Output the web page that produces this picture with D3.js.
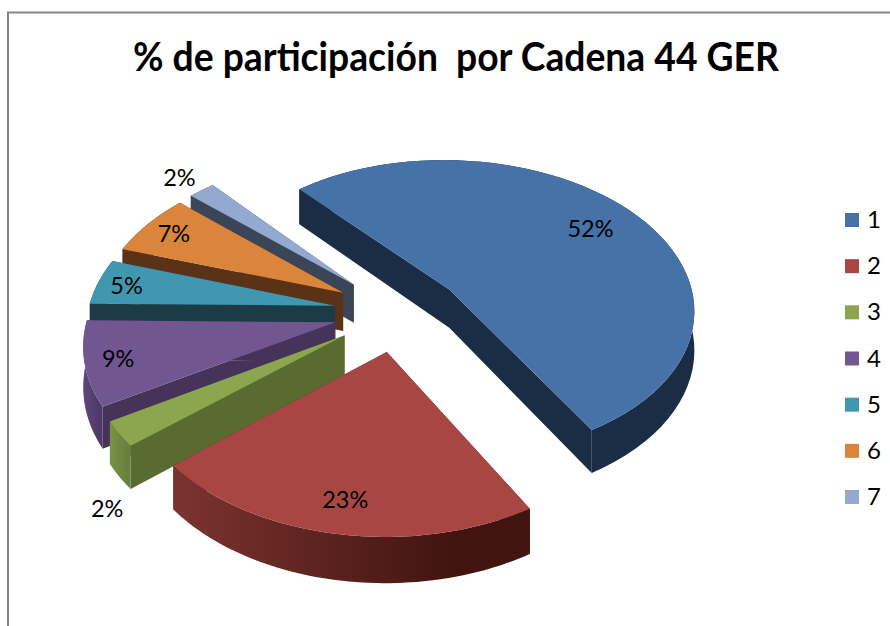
<!DOCTYPE html>
<html><head><meta charset="utf-8">
<script src="https://cdn.jsdelivr.net/npm/d3@7"></script>
<style>html,body{margin:0;padding:0;background:#fff}svg{display:block}text{font-family:Lato,"Noto Sans",sans-serif;fill:#000}</style>
</head><body><svg id="c" width="890" height="626"></svg>
<script>
const titleText = "% de participación  por Cadena 44 GER";
const categories = ["1","2","3","4","5","6","7"];
const values = [53,22.2,2.6,8.8,4.8,6.6,2];
const valueLabels = ["52%","23%","2%","9%","5%","7%","2%"];
const topColors = ["#4672a8","#a84644","#8ca64f","#715691","#3f98b0","#db843c","#94a9d0"];
const cutColors = ["#1b2d45","#5a2624","#5a6b32","#45335a","#1b3c47","#5a3216","#3a4558"];
const arcLight = ["#1b2d45","#7c3330","#7a9244","#5d4a7a","#1b3c47","#5a3216","#3a4558"];
const arcDark = ["#1b2d45","#40140f","#6a8040","#4d3a68","#1b3c47","#5a3216","#3a4558"];

// layout constants
const W=890,H=626,cx=398,cy=312,R=247,k=0.611,p=0.125,depth=39,explode=0.26;
const labelR=[0.77,0.83,1.05,0.87,0.88,0.86,1.16];
const labelZ=[0,0,1.6,0,0,0,0];
const drawOrder=[0,6,5,4,3,2,1];

const svg=d3.select("#c");
const defs=svg.append("defs");
svg.append("path").attr("d",`M8,626V12.5H890`).attr("fill","none").attr("stroke","#868686").attr("stroke-width",2);
svg.append("text").attr("x",133).attr("y",71).attr("font-size",40).attr("font-weight",700)
  .attr("textLength",646).attr("lengthAdjust","spacingAndGlyphs").attr("xml:space","preserve").style("white-space","pre").text(titleText);

const rad=d3.scaleLinear().domain([0,360]).range([0,2*Math.PI]);
const pie=d3.pie().sort(null).value(d=>d).startAngle(rad(-41)).endAngle(rad(319));
const arcs=pie(values);

function project(u,v,z){const s=1/(1-p*v);return [cx+R*u*s, cy+R*k*v*s+depth*z*s];}
const line=d3.line();
const ccw=poly=>d3.polygonArea(poly)<0?poly.slice().reverse():poly;
arcs.forEach((a,i)=>{
  const mid=(a.startAngle+a.endAngle)/2;
  const ax=explode*Math.sin(mid), ay=-explode*Math.cos(mid);
  const rim=t=>[ax+Math.sin(t),ay-Math.cos(t)];
  const ts=d3.range(0,61).map(j=>a.startAngle+(a.endAngle-a.startAngle)*j/60);
  a.apex=z=>project(ax,ay,z);
  a.rimPts=z=>ts.map(t=>{const q=rim(t);return project(q[0],q[1],z);});
  a.label=()=>{const r=labelR[i];return project(ax+r*Math.sin(mid),ay-r*Math.cos(mid),labelZ[i]);};
});

drawOrder.forEach(i=>{
  const a=arcs[i];
  const g=svg.append("g");
  const t=a.rimPts(0), b=a.rimPts(1);
  const xe=d3.extent(t,d=>d[0]);
  const gid="w"+i;
  const lg=defs.append("linearGradient").attr("id",gid).attr("gradientUnits","userSpaceOnUse")
    .attr("x1",xe[0]).attr("x2",xe[1]).attr("y1",0).attr("y2",0);
  lg.append("stop").attr("offset","0").attr("stop-color",arcLight[i]);
  lg.append("stop").attr("offset","0.8").attr("stop-color",arcDark[i]);
  // radial cut faces, wound the same way so they merge without a seam
  const faceA=ccw([a.apex(0),t[0],b[0],a.apex(1)]), faceB=ccw([a.apex(0),t[60],b[60],a.apex(1)]);
  g.append("path").attr("d",line(faceA)+"Z"+line(faceB)+"Z").attr("fill",cutColors[i]);
  // outer wall
  g.append("path").attr("d",line(t.concat(b.slice().reverse()))+"Z").attr("fill",`url(#${gid})`);
  // top
  g.append("path").attr("d",line([a.apex(0)].concat(t))+"Z").attr("fill",topColors[i]);
});

arcs.forEach((a,i)=>{
  const q=a.label();
  svg.append("text").attr("x",q[0]).attr("y",q[1]+9).attr("text-anchor","middle").attr("font-size",23.5).text(valueLabels[i]);
});

const ly=d3.scalePoint().domain(categories).range([220,497]);
const lg=svg.append("g");
categories.forEach((c,i)=>{
  lg.append("rect").attr("x",845).attr("y",ly(c)-7).attr("width",14).attr("height",14).attr("fill",topColors[i]);
  lg.append("text").attr("x",867).attr("y",ly(c)+8).attr("font-size",24).text(c);
});
</script></body></html>
